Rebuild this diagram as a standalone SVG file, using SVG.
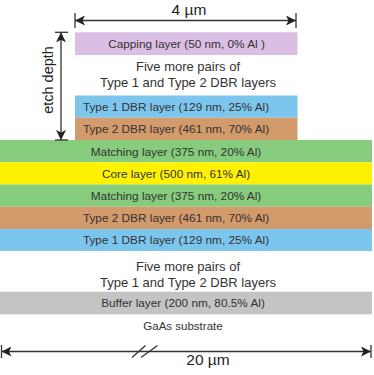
<svg xmlns="http://www.w3.org/2000/svg" width="374" height="375" viewBox="0 0 374 375">
<defs>
<style>
.lbl{font-family:"Liberation Sans",Arial,sans-serif;font-size:11.8px;fill:#333;text-anchor:middle}
.note{font-family:"Liberation Sans",Arial,sans-serif;font-size:13px;fill:#333;text-anchor:middle}
.dim{font-family:"Liberation Sans",Arial,sans-serif;font-size:15.5px;fill:#222;text-anchor:middle}
.ln{stroke:#333;stroke-width:1.3;fill:none}
.cap{fill:#dbbee3}.t1{fill:#7cc6ee}.t2{fill:#d39a6b}.mt{fill:#86cc7c}.core{fill:#fff100}.buf{fill:#c4c4c4}
</style>
<marker id="ah" viewBox="0 0 10 10" refX="10" refY="5" markerWidth="10" markerHeight="10" markerUnits="userSpaceOnUse" orient="auto-start-reverse">
<path d="M0,0 L10,5 L0,10 L2.5,5 Z" fill="#222"/>
</marker>
</defs>
<g id="capping"><rect class="cap" x="75" y="32.3" width="222.5" height="22.7"/><text class="lbl" x="186.5" y="48">Capping layer (50 nm, 0% Al )</text></g>
<g id="pairs-top"><text class="note" x="188" y="71">Five more pairs of</text><text class="note" x="188" y="87">Type 1 and Type 2 DBR layers</text></g>
<g id="type1-top"><rect class="t1" x="75" y="95.5" width="222.5" height="22.2"/><text class="lbl" x="176" y="111">Type 1 DBR layer (129 nm, 25% Al)</text></g>
<g id="type2-top"><rect class="t2" x="75" y="117.7" width="222.5" height="22.3"/><text class="lbl" x="176" y="133">Type 2 DBR layer (461 nm, 70% Al)</text></g>
<g id="matching-top"><rect class="mt" x="0" y="140" width="372" height="22.3"/><text class="lbl" x="176" y="155.5">Matching layer (375 nm, 20% Al)</text></g>
<g id="core"><rect class="core" x="0" y="162.3" width="372" height="22.2"/><text class="lbl" x="176" y="177.5">Core layer (500 nm, 61% Al)</text></g>
<g id="matching-bottom"><rect class="mt" x="0" y="184.5" width="372" height="22.2"/><text class="lbl" x="176" y="199.8">Matching layer (375 nm, 20% Al)</text></g>
<g id="type2-bottom"><rect class="t2" x="0" y="206.7" width="372" height="22.3"/><text class="lbl" x="176" y="222">Type 2 DBR layer (461 nm, 70% Al)</text></g>
<g id="type1-bottom"><rect class="t1" x="0" y="229" width="372" height="22"/><text class="lbl" x="176" y="244">Type 1 DBR layer (129 nm, 25% Al)</text></g>
<g id="pairs-bottom"><text class="note" x="188" y="271">Five more pairs of</text><text class="note" x="188" y="287">Type 1 and Type 2 DBR layers</text></g>
<g id="buffer"><rect class="buf" x="0" y="291.7" width="372" height="22.6"/><text class="lbl" x="183" y="307">Buffer layer (200 nm, 80.5% Al)</text></g>
<g id="substrate"><text class="lbl" x="183" y="330" style="font-size:11.5px">GaAs substrate</text></g>
<g id="connectors">
<line class="ln" x1="75" y1="20.5" x2="296" y2="20.5" marker-start="url(#ah)" marker-end="url(#ah)"/>
<line class="ln" x1="75" y1="13" x2="75" y2="28"/>
<line class="ln" x1="296" y1="13" x2="296" y2="28"/>
<line class="ln" x1="61" y1="32.3" x2="61" y2="140" marker-start="url(#ah)" marker-end="url(#ah)"/>
<line class="ln" x1="55" y1="32.3" x2="68" y2="32.3"/>
<line class="ln" x1="55" y1="140" x2="68" y2="140"/>
<line class="ln" x1="1.5" y1="351.5" x2="371" y2="351.5" marker-start="url(#ah)" marker-end="url(#ah)"/>
<line class="ln" x1="1.5" y1="345" x2="1.5" y2="358"/>
<line class="ln" x1="371" y1="345" x2="371" y2="358"/>
<line class="ln" x1="132" y1="357.5" x2="145.5" y2="345.5"/>
<line class="ln" x1="141" y1="357.5" x2="157.5" y2="345.5"/>
</g>
<g id="labels">
<text class="dim" x="189" y="15">4 µm</text>
<text class="dim" x="208" y="365">20 µm</text>
<text class="dim" transform="translate(53,80) rotate(-90)" style="font-size:14.5px">etch depth</text>
</g>
</svg>
